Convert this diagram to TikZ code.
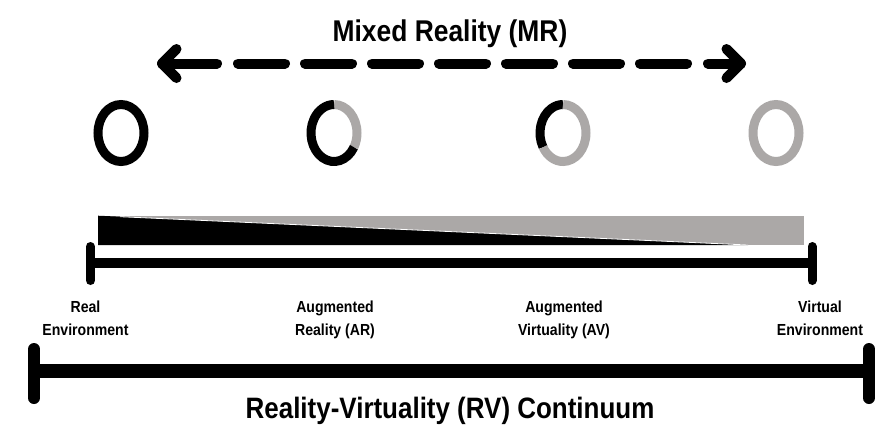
\documentclass[tikz,border=0pt]{standalone}
\usepackage{fontspec}
\setmainfont{Liberation Sans}
\newfontfamily\narrowfont[FakeStretch=0.88]{Liberation Sans}
\usetikzlibrary{calc}
\definecolor{vgray}{RGB}{171,168,167}

\tikzset{
  heading/.style={font=\narrowfont\bfseries\fontsize{30}{34}\selectfont, inner sep=0pt, anchor=base},
  footing/.style={font=\narrowfont\bfseries\fontsize{29.5}{34}\selectfont, inner sep=0pt, anchor=base},
  envlabel/.style={font=\narrowfont\bfseries\fontsize{16}{23}\selectfont, align=center, inner sep=0pt, anchor=base},
  mrline/.style={line width=10pt, line cap=round, line join=round},
  ring/.style={line width=9pt, x radius=23, y radius=28.5},
  barline/.style={line width=10pt},
  barend/.style={line width=9pt, line cap=round},
  rvline/.style={line width=14pt},
  rvend/.style={line width=12pt, line cap=round},
}

\begin{document}
\begin{tikzpicture}[x=1pt, y=-1pt]
\useasboundingbox (0,0) rectangle (887,424);

% Mixed Reality span: dashed double arrow
\node[heading] (mr) at (450,41) {Mixed Reality (MR)};
\coordinate (mrL) at (162,63.5);
\coordinate (mrR) at (741,63.5);
\draw[mrline, dash pattern=on 55pt off 21pt on 47pt off 20pt on 47pt off 20pt on 47pt off 20pt on 47pt off 20pt on 47pt off 20pt on 47pt off 20pt on 47pt off 21pt on 33pt off 50pt]
  (mrL) -- (mrR);
\draw[mrline] ($(mrL)+(14.5,-14.5)$) -- (mrL) -- ($(mrL)+(14.5,14.5)$);
\draw[mrline] ($(mrR)+(-14.5,-14.5)$) -- (mrR) -- ($(mrR)+(-14.5,14.5)$);

% Rings: share of real (black) versus virtual (gray)
\draw[ring, black] (121,133) ellipse [];

\draw[ring, vgray] (334,133) ++(-90:23 and 28.5) arc[start angle=-90, end angle=30];
\draw[ring, black] (334,133) ++(30:23 and 28.5) arc[start angle=30, end angle=270];

\draw[ring, black] (563,133) ++(150:23 and 28.5) arc[start angle=150, end angle=270];
\draw[ring, vgray] (563,133) ++(-90:23 and 28.5) arc[start angle=-90, end angle=150];

\draw[ring, vgray] (776,133) ellipse [];

% Wedge: real content fading into virtual content
\fill[vgray] (98,215.7) rectangle (804,245);
\fill[black] (98,215.7) -- (748,245) -- (98,245) -- cycle;
\draw[white, line width=0.8pt] (120,216.7) -- (748,245);

% Mixed reality bar
\coordinate (ub1) at (90.5,263);
\coordinate (ub2) at (812,263);
\draw[barline] (ub1) -- (ub2);
\draw[barend] ($(ub1)+(0,-16.5)$) -- ($(ub1)+(0,17.5)$);
\draw[barend] ($(ub2)+(0,-16.5)$) -- ($(ub2)+(0,17.5)$);

% Labels along the continuum (base anchor sits on the second line)
\node[envlabel] (lblRE) at (85.5,335) {Real\\Environment};
\node[envlabel] (lblAR) at (335,335) {Augmented\\Reality (AR)};
\node[envlabel] (lblAV) at (564,335) {Augmented\\Virtuality (AV)};
\node[envlabel] (lblVE) at (820,335) {Virtual\\Environment};

% Reality-Virtuality continuum bar
\coordinate (lb1) at (34,371);
\coordinate (lb2) at (869,371);
\draw[rvline] (lb1) -- (lb2);
\draw[rvend] ($(lb1)+(0,-22)$) -- ($(lb1)+(0,27)$);
\draw[rvend] ($(lb2)+(0,-22)$) -- ($(lb2)+(0,27)$);

\node[footing] (rv) at (450,418.5) {Reality-Virtuality (RV) Continuum};
\end{tikzpicture}
\end{document}
